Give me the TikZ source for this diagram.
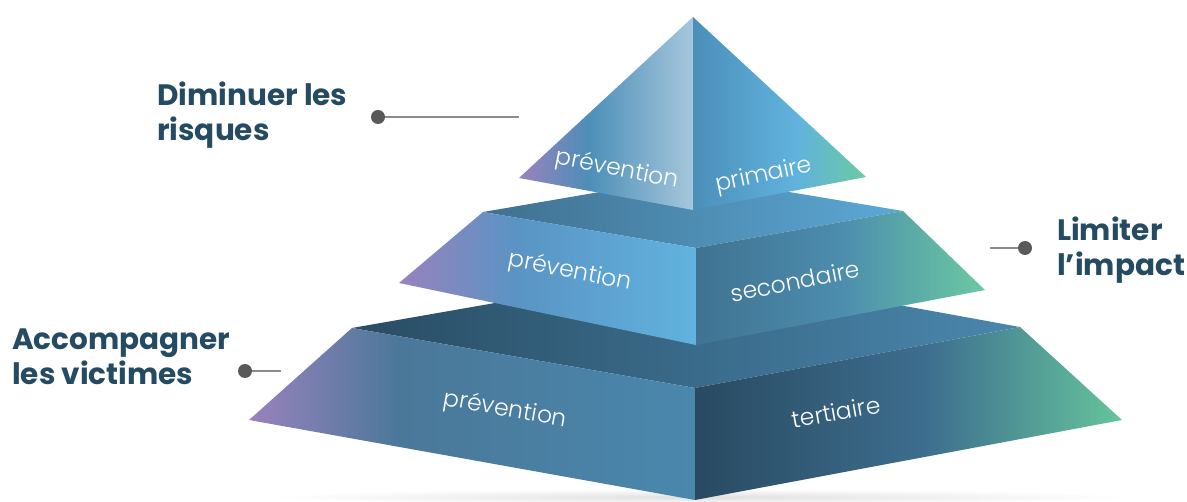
\documentclass[tikz,border=0pt]{standalone}
\usepackage{fontspec}
\setmainfont{Poppins}
\newfontfamily\facefont{Poppins Light}
\usetikzlibrary{backgrounds}

\definecolor{goalblue}{HTML}{244B61}
\definecolor{pingray}{HTML}{5A5A5A}
\definecolor{linegray}{HTML}{8C8C8C}

% horizontal gradients, stops between 25bp and 75bp
\pgfdeclarehorizontalshading{topleft}{100bp}{rgb(0bp)=(0.60,0.51,0.74); rgb(25bp)=(0.60,0.51,0.74);
  rgb(45bp)=(0.30,0.56,0.72); rgb(75bp)=(0.65,0.78,0.86); rgb(100bp)=(0.65,0.78,0.86)}
\pgfdeclarehorizontalshading{topright}{100bp}{rgb(0bp)=(0.29,0.56,0.73); rgb(25bp)=(0.29,0.56,0.73);
  rgb(55bp)=(0.38,0.70,0.87); rgb(75bp)=(0.42,0.79,0.63); rgb(100bp)=(0.42,0.79,0.63)}
\pgfdeclarehorizontalshading{midtop}{100bp}{rgb(0bp)=(0.25,0.44,0.56); rgb(25bp)=(0.25,0.44,0.56);
  rgb(75bp)=(0.36,0.66,0.84); rgb(100bp)=(0.36,0.66,0.84)}
\pgfdeclarehorizontalshading{midleft}{100bp}{rgb(0bp)=(0.60,0.51,0.74); rgb(25bp)=(0.60,0.51,0.74);
  rgb(45bp)=(0.35,0.58,0.77); rgb(75bp)=(0.38,0.70,0.87); rgb(100bp)=(0.38,0.70,0.87)}
\pgfdeclarehorizontalshading{midright}{100bp}{rgb(0bp)=(0.25,0.45,0.57); rgb(25bp)=(0.25,0.45,0.57);
  rgb(50bp)=(0.30,0.55,0.68); rgb(75bp)=(0.42,0.79,0.63); rgb(100bp)=(0.42,0.79,0.63)}
\pgfdeclarehorizontalshading{bottop}{100bp}{rgb(0bp)=(0.16,0.30,0.39); rgb(25bp)=(0.16,0.30,0.39);
  rgb(75bp)=(0.29,0.53,0.68); rgb(100bp)=(0.29,0.53,0.68)}
\pgfdeclarehorizontalshading{botleft}{100bp}{rgb(0bp)=(0.60,0.51,0.74); rgb(25bp)=(0.60,0.51,0.74);
  rgb(42bp)=(0.29,0.47,0.60); rgb(75bp)=(0.29,0.53,0.68); rgb(100bp)=(0.29,0.53,0.68)}
\pgfdeclarehorizontalshading{botright}{100bp}{rgb(0bp)=(0.16,0.29,0.38); rgb(25bp)=(0.16,0.29,0.38);
  rgb(52bp)=(0.24,0.43,0.56); rgb(75bp)=(0.40,0.77,0.61); rgb(100bp)=(0.40,0.77,0.61)}

\begin{document}
\begin{tikzpicture}[x=1pt, y=-1pt,
    facetext/.style={text=white, font=\facefont\fontsize{23.5}{27}\selectfont, inner sep=0pt},
    goal/.style={text=goalblue, align=left, anchor=west, inner sep=0pt,
      font=\bfseries\fontsize{29.5}{35}\selectfont},
    pin/.style={circle, fill=pingray, inner sep=0pt, minimum size=14pt},
    pinline/.style={draw=linegray, line width=1.3pt}]
  \useasboundingbox (0,0) rectangle (1187,502);

  % soft shadow under the base
  \shade[inner color=black!12, outer color=white] (700,497) ellipse (430 and 8);

  % bottom tier
  \shade[shading=bottop] (352,328) -- (695,268) -- (1020,327) -- (695,388) -- cycle;
  \shade[shading=botleft] (352,328) -- (695,388) -- (695,500) -- (249,420) -- cycle;
  \shade[shading=botright] (695,388) -- (1020,327) -- (1122,420) -- (695,500) -- cycle;

  % middle tier
  \shade[shading=midtop] (483,212) -- (693,176) -- (903,211) -- (696,248) -- cycle;
  \shade[shading=midleft] (483,212) -- (696,248) -- (696,345) -- (399,283) -- cycle;
  \shade[shading=midright] (696,248) -- (903,211) -- (985,290) -- (696,345) -- cycle;

  % top pyramid
  \shade[shading=topleft] (693,17) -- (693,210) -- (519,178) -- cycle;
  \shade[shading=topright] (693,17) -- (866,177) -- (693,210) -- cycle;

  % face texts
  \node[facetext, rotate=-11] (topl) at (617,170) {prévention};
  \node[facetext, rotate=12] (topr) at (764,176) {primaire};
  \node[facetext, rotate=-11] (midl) at (570,272) {prévention};
  \node[facetext, rotate=11] (midr) at (795,281) {secondaire};
  \node[facetext, rotate=-10] (botl) at (505,410) {prévention};
  \node[facetext, rotate=10] (botr) at (836,412) {tertiaire};

  % goals
  \node[goal] (risk) at (157,115) {Diminuer les\\risques};
  \node[goal] (impact) at (1057,250) {Limiter\\l’impact};
  \node[goal] (victim) at (12,357) {Accompagner\\les victimes};

  \node[pin] (riskpin) at (378,117) {};
  \node[pin] (impactpin) at (1025,248) {};
  \node[pin] (victimpin) at (245,371) {};
  \coordinate (riskend) at (519,117);
  \coordinate (impactend) at (990,248);
  \coordinate (victimend) at (281,371);
  \draw[pinline] (riskpin) -- (riskend);
  \draw[pinline] (impactpin) -- (impactend);
  \draw[pinline] (victimpin) -- (victimend);
\end{tikzpicture}
\end{document}
